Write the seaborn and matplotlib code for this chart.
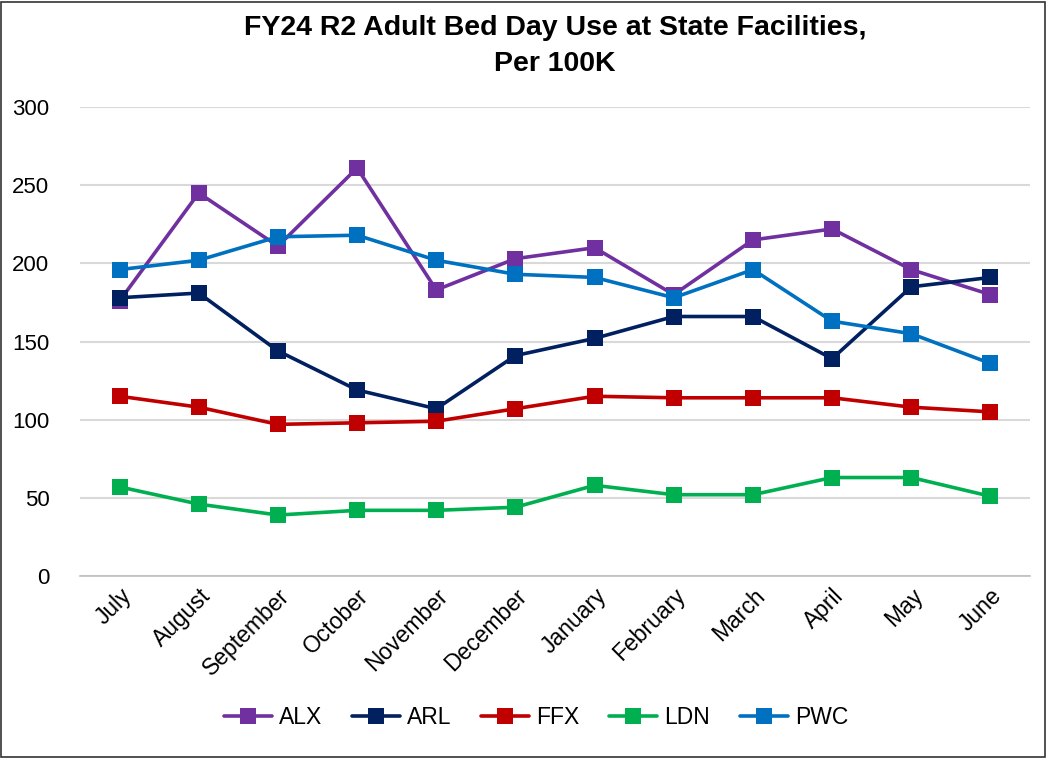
import matplotlib
matplotlib.use("Agg")
import matplotlib.pyplot as plt
import seaborn as sns
import pandas as pd
from matplotlib.patches import Rectangle

months = ["July", "August", "September", "October", "November", "December",
          "January", "February", "March", "April", "May", "June"]

alx = [176, 245, 211, 261, 183, 203, 210, 180, 215, 222, 196, 180]
arl = [178, 181, 144, 119, 107, 141, 152, 166, 166, 139, 185, 191]
ffx = [115, 108, 97, 98, 99, 107, 115, 114, 114, 114, 108, 105]
ldn = [57, 46, 39, 42, 42, 44, 58, 52, 52, 63, 63, 51]
pwc = [196, 202, 217, 218, 202, 193, 191, 178, 196, 163, 155, 136]

series = {"ALX": alx, "ARL": arl, "FFX": ffx, "LDN": ldn, "PWC": pwc}
colors = {"ALX": "#7030A0", "ARL": "#002060", "FFX": "#C00000",
          "LDN": "#00B050", "PWC": "#0070C0"}

rows = []
for name, vals in series.items():
    for m, v in zip(months, vals):
        rows.append({"month": m, "value": v, "site": name})
df = pd.DataFrame(rows)

sns.set_style("white")
plt.rcParams['font.family'] = ['Liberation Sans Narrow', 'Liberation Sans', 'DejaVu Sans']
plt.rcParams['text.color'] = 'black'
plt.rcParams['xtick.color'] = 'black'
plt.rcParams['ytick.color'] = 'black'

fig = plt.figure(figsize=(10.47, 7.58), dpi=100)
ax = fig.add_axes([0.0764, 0.2401, 0.9074, 0.6187])

sns.lineplot(data=df, x="month", y="value", hue="site", palette=colors,
             style="site", markers={k: "s" for k in series}, dashes=False,
             sort=False, linewidth=2.6, markersize=11.5, markeredgewidth=0,
             ax=ax)

ax.set_xlim(-0.5, 11.5)
ax.set_ylim(0, 300)
ax.set_yticks(range(0, 301, 50))
ax.yaxis.grid(True, color="#D9D9D9", linewidth=1.5)
ax.set_axisbelow(True)
for s in ["top", "right", "left"]:
    ax.spines[s].set_visible(False)
ax.spines["bottom"].set_color("#BFBFBF")
ax.spines["bottom"].set_linewidth(1.2)
ax.set_xlabel("")
ax.set_ylabel("")
ax.tick_params(axis="y", length=0, pad=22, labelsize=16)
ax.tick_params(axis="x", length=0, pad=6, labelsize=16.5)
plt.setp(ax.get_xticklabels(), rotation=45, ha="right", rotation_mode="anchor")

fig.suptitle("FY24 R2 Adult Bed Day Use at State Facilities,\nPer 100K",
             x=0.53, y=0.98, fontsize=20.5, fontweight="bold", linespacing=1.5,
             color="black")

handles, labels = ax.get_legend_handles_labels()
ax.legend_.remove()
fig.legend(handles, labels, loc="center", bbox_to_anchor=(0.512, 0.054), ncol=5,
           frameon=False, fontsize=16.5, handlelength=2.1, columnspacing=1.3,
           handletextpad=0.3)

fig.patches.append(Rectangle((0.001, 0.001), 0.997, 0.997, transform=fig.transFigure,
                             fill=False, edgecolor="#333333", linewidth=1.2))

fig.savefig("out.png", dpi=100)
